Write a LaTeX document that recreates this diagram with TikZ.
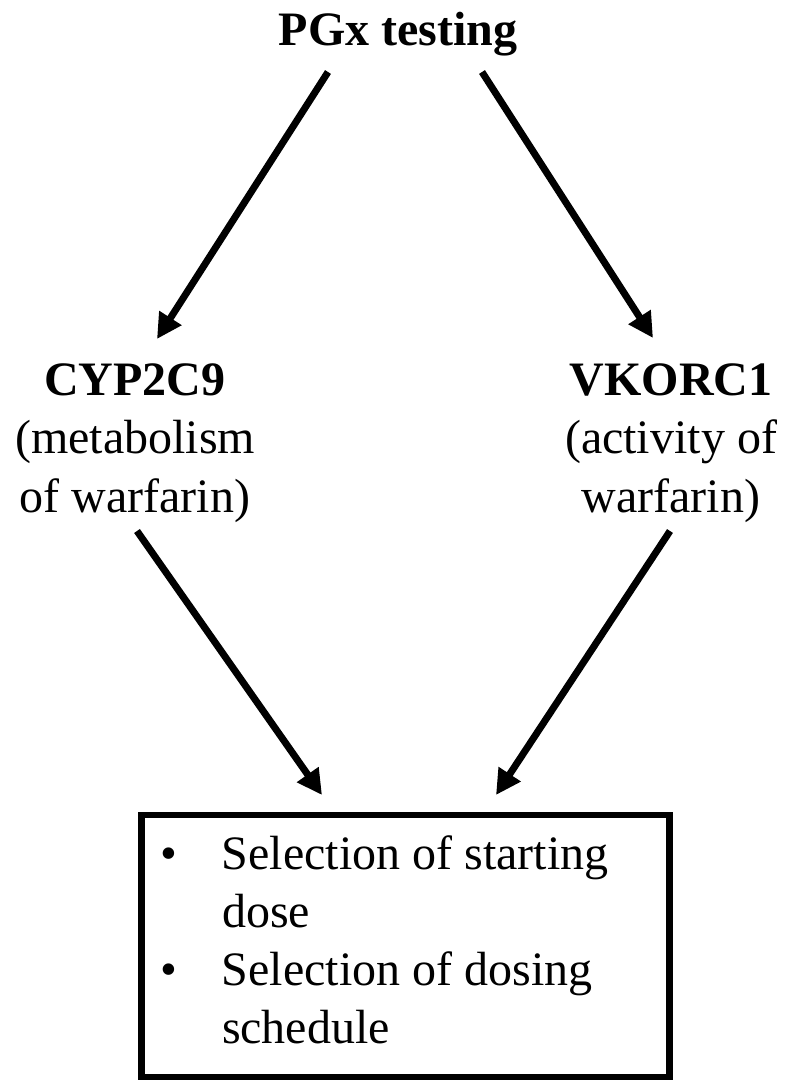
\documentclass[tikz,border=0pt]{standalone}
\usepackage{fontspec}
\setmainfont{Liberation Serif}
\usetikzlibrary{arrows.meta}
\begin{document}
\begin{tikzpicture}[x=1pt,y=-1pt,
  txt/.style={inner sep=0pt, anchor=base, font=\fontsize{48}{58.5}\selectfont},
  arr/.style={line width=7pt, -{Triangle[length=25pt,width=25pt]}},
  outbox/.style={draw, line width=6.5pt, minimum width=528pt, minimum height=262pt,
    inner sep=0pt, font=\fontsize{48}{58.3}\selectfont}]
\useasboundingbox (0,0) rectangle (788,1081);
% nodes
\node[txt] (pgx) at (398,46) {\textbf{PGx testing}};
\node[txt] (cyp) at (135,395) {\parbox[t]{320pt}{\centering\textbf{CYP2C9}\\(metabolism\\of warfarin)}};
\node[txt] (vk) at (671,395) {\parbox[t]{320pt}{\centering\textbf{VKORC1}\\(activity of\\warfarin)}};
\node[outbox, text height=40pt, text depth=194pt] (box) at (405.5,946)
  {\parbox[t]{489.8pt}{\makebox[61.4pt][l]{•}Selection of starting\\
   \hspace*{61.4pt}dose\\
   \makebox[61.4pt][l]{•}Selection of dosing\\
   \hspace*{61.4pt}schedule}};
% arrow end points
\coordinate (a1s) at (328,72);  \coordinate (a1e) at (157,339);
\coordinate (a2s) at (482,72);  \coordinate (a2e) at (653,338);
\coordinate (a3s) at (137,531); \coordinate (a3e) at (322,795);
\coordinate (a4s) at (670,531); \coordinate (a4e) at (496,795);
\draw[arr] (a1s) -- (a1e);
\draw[arr] (a2s) -- (a2e);
\draw[arr] (a3s) -- (a3e);
\draw[arr] (a4s) -- (a4e);
\end{tikzpicture}
\end{document}
